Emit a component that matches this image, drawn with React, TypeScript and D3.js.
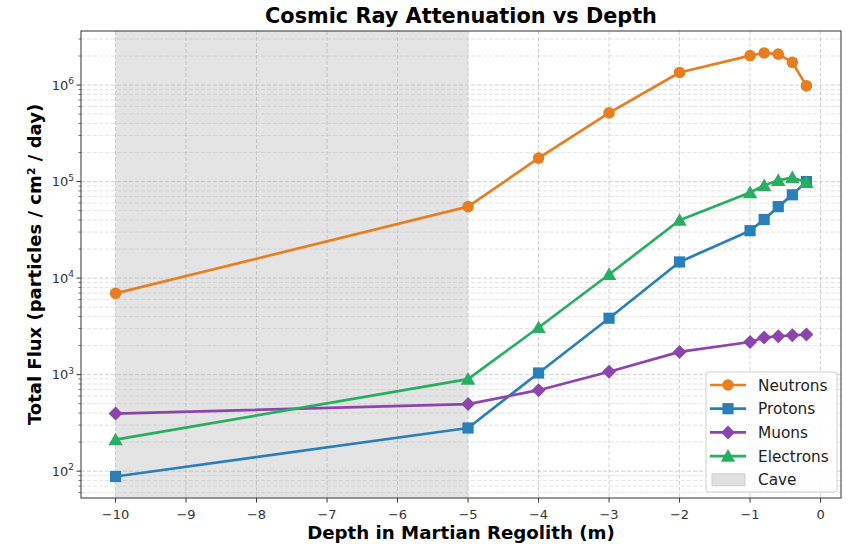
import React from 'react';
import * as d3 from 'd3';

const depths = [-10, -5, -4, -3, -2, -1, -0.8, -0.6, -0.4, -0.2];
const neutrons = [6950, 55000, 175000, 515000, 1350000, 2020000, 2150000, 2090000, 1720000, 980000];
const protons = [88, 280, 1040, 3840, 14700, 31000, 40500, 55000, 73000, 100000];
const muons = [395, 495, 690, 1070, 1720, 2180, 2420, 2500, 2560, 2600];
const electrons = [212, 900, 3080, 10900, 39800, 77000, 91000, 103000, 110000, 98000];

const seriesNames = ['Neutrons', 'Protons', 'Muons', 'Electrons'];
const seriesColors = ['#e67e22', '#2980b9', '#8e44ad', '#27ae60'];
const seriesMarkers = ['circle', 'square', 'diamond', 'triangle'];
const xTicks = [-10, -9, -8, -7, -6, -5, -4, -3, -2, -1, 0];
const yTicks = [2, 3, 4, 5, 6];
const cave = [-10, -5];

const width = 848;
const height = 544;
const margin = { top: 31, right: 7, bottom: 46, left: 81 };
const font = 'DejaVu Sans, sans-serif';

function Marker({ kind, x, y, color }: { kind: string; x: number; y: number; color: string }) {
  if (kind === 'circle') return <circle cx={x} cy={y} r={5.8} fill={color} />;
  if (kind === 'square') return <rect x={x - 5.6} y={y - 5.6} width={11.2} height={11.2} fill={color} />;
  if (kind === 'diamond')
    return <path d={`M${x},${y - 7}L${x + 7},${y}L${x},${y + 7}L${x - 7},${y}Z`} fill={color} />;
  return <path d={`M${x},${y - 7}L${x + 7.2},${y + 5.6}L${x - 7.2},${y + 5.6}Z`} fill={color} />;
}

export default function App() {
  const innerW = width - margin.left - margin.right;
  const innerH = height - margin.top - margin.bottom;
  const allSeries = [neutrons, protons, muons, electrons];

  const x = d3.scaleLinear().domain([-10.49, 0.29]).range([0, innerW]);
  const y = d3.scaleLog().domain([Math.pow(10, 1.722), Math.pow(10, 6.56)]).range([innerH, 0]);

  const line = d3
    .line<number>()
    .x((_, i) => x(depths[i]))
    .y((d) => y(d));

  const minorTicks: number[] = [];
  for (let e = 1; e <= 6; e++) {
    for (let m = 2; m <= 9; m++) {
      const v = m * Math.pow(10, e);
      const [lo, hi] = y.domain();
      if (v > lo && v < hi) minorTicks.push(v);
    }
  }

  const legendX = 706;
  const legendY = 372;
  const rowH = 23.7;

  return (
    <svg width={width} height={height} style={{ position: 'absolute', left: 0, top: 0, background: '#fff' }}>
      <text x={margin.left + innerW / 2} y={23} textAnchor="middle" fontFamily={font} fontWeight="bold" fontSize={20.8}>
        Cosmic Ray Attenuation vs Depth
      </text>
      <g transform={`translate(${margin.left},${margin.top})`}>
        <rect x={x(cave[0])} y={0} width={x(cave[1]) - x(cave[0])} height={innerH} fill="#e4e4e4" />
        {minorTicks.map((v) => (
          <line key={'m' + v} x1={0} x2={innerW} y1={y(v)} y2={y(v)} stroke="#b0b0b0" strokeOpacity={0.45} strokeWidth={0.8} strokeDasharray="4,2" />
        ))}
        {yTicks.map((e) => (
          <line key={'y' + e} x1={0} x2={innerW} y1={y(Math.pow(10, e))} y2={y(Math.pow(10, e))} stroke="#b0b0b0" strokeOpacity={0.6} strokeWidth={1} strokeDasharray="4,2" />
        ))}
        {xTicks.map((t) => (
          <line key={'x' + t} x1={x(t)} x2={x(t)} y1={0} y2={innerH} stroke="#b0b0b0" strokeOpacity={0.6} strokeWidth={1} strokeDasharray="4,2" />
        ))}
        {allSeries.map((s, k) => (
          <g key={seriesNames[k]}>
            <path d={line(s) || ''} fill="none" stroke={seriesColors[k]} strokeWidth={2.7} strokeLinejoin="round" />
            {s.map((v, i) => (
              <Marker key={i} kind={seriesMarkers[k]} x={x(depths[i])} y={y(v)} color={seriesColors[k]} />
            ))}
          </g>
        ))}
        <rect x={0} y={0} width={innerW} height={innerH} fill="none" stroke="#333" strokeWidth={1} />
        {xTicks.map((t) => (
          <g key={'xt' + t} transform={`translate(${x(t)},${innerH})`}>
            <line y1={0} y2={4.5} stroke="#333" />
            <text y={21} textAnchor="middle" fontFamily={font} fontSize={13} fill="#333">
              {t < 0 ? '\u2212' + Math.abs(t) : t}
            </text>
          </g>
        ))}
        {minorTicks.map((v) => (
          <line key={'mt' + v} x1={-2.5} x2={0} y1={y(v)} y2={y(v)} stroke="#333" strokeWidth={0.7} />
        ))}
        {yTicks.map((e) => (
          <g key={'yt' + e} transform={`translate(0,${y(Math.pow(10, e))})`}>
            <line x1={-4.5} x2={0} stroke="#333" />
            <text x={-7} y={4.5} textAnchor="end" fontFamily={font} fontSize={13} fill="#333">
              10
              <tspan dy={-5.5} fontSize={9}>
                {e}
              </tspan>
            </text>
          </g>
        ))}
      </g>
      <text x={margin.left + innerW / 2} y={539} textAnchor="middle" fontFamily={font} fontWeight="bold" fontSize={18.2}>
        Depth in Martian Regolith (m)
      </text>
      <text
        transform={`translate(41,${margin.top + innerH / 2}) rotate(-90)`}
        textAnchor="middle"
        fontFamily={font}
        fontWeight="bold"
        fontSize={18}
      >
        Total Flux (particles / cm² / day)
      </text>
      <g transform={`translate(${legendX},${legendY})`}>
        <rect x={0} y={0} width={131} height={120} rx={3} fill="#fff" fillOpacity={0.85} stroke="#d0d0d0" />
        {seriesNames.map((n, k) => (
          <g key={n} transform={`translate(0,${13 + k * rowH})`}>
            <line x1={4} x2={40} stroke={seriesColors[k]} strokeWidth={2.7} />
            <Marker kind={seriesMarkers[k]} x={22} y={0} color={seriesColors[k]} />
            <text x={52} y={5.5} fontFamily={font} fontSize={15.3} fill="#222">
              {n}
            </text>
          </g>
        ))}
        <g transform={`translate(0,${13 + 4 * rowH})`}>
          <rect x={6} y={-6} width={33} height={12} fill="#e0e0e0" stroke="#cfcfcf" />
          <text x={52} y={5.5} fontFamily={font} fontSize={15.3} fill="#222">
            Cave
          </text>
        </g>
      </g>
    </svg>
  );
}
